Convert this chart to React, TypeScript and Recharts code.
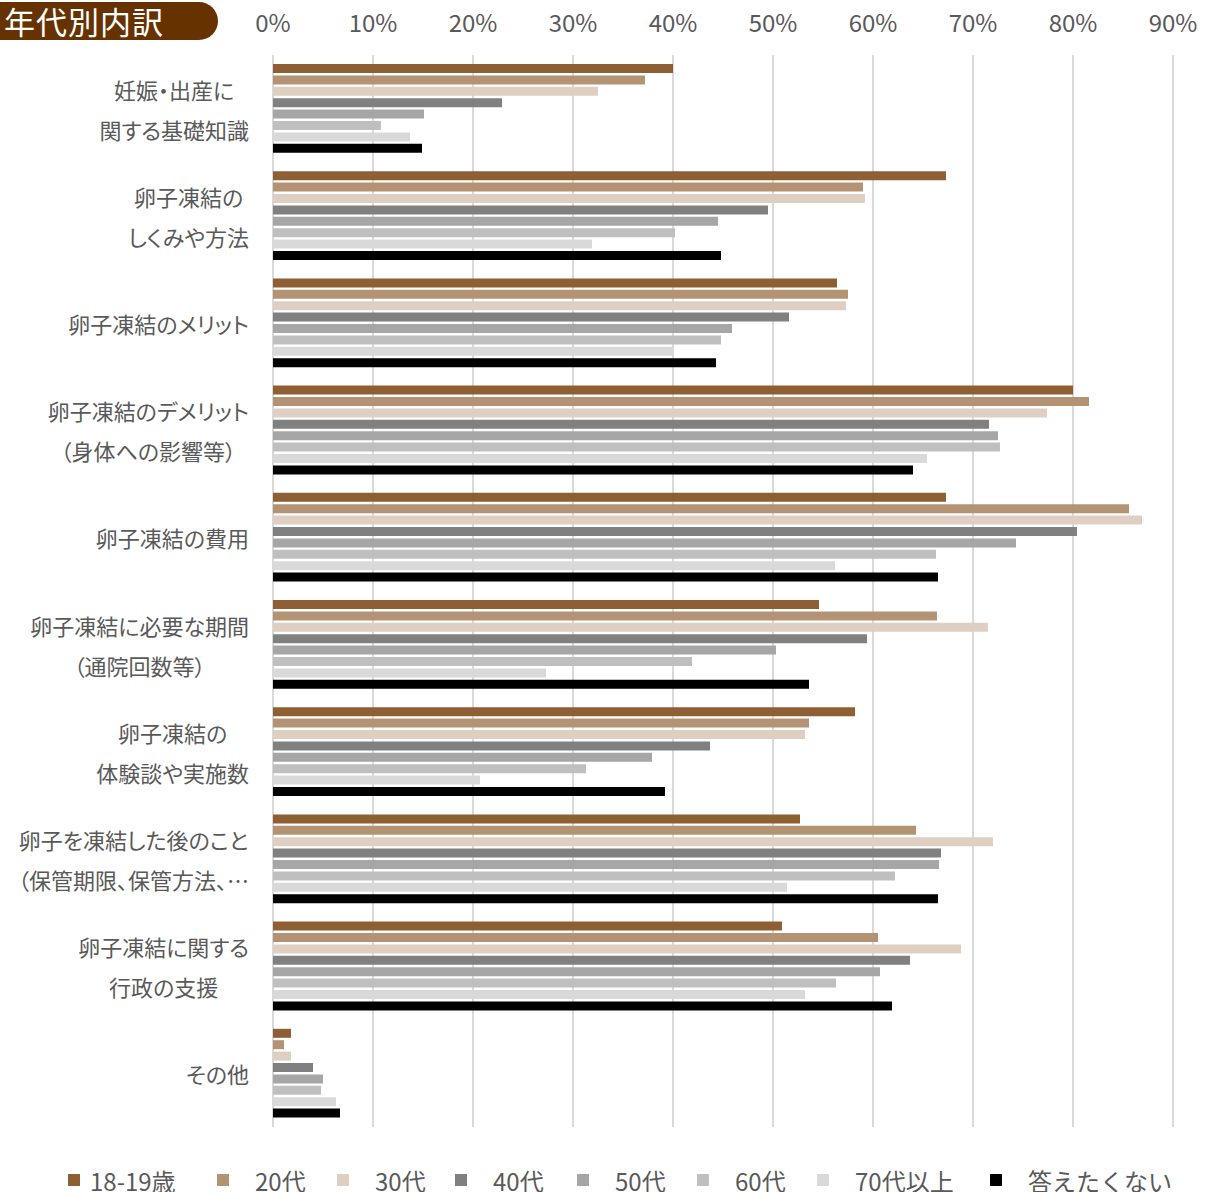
import React from "react";
import { BarChart, Bar, XAxis, YAxis, CartesianGrid } from "recharts";

const categories = [
  "妊娠・出産に\n関する基礎知識",
  "卵子凍結の\nしくみや方法",
  "卵子凍結のメリット",
  "卵子凍結のデメリット\n（身体への影響等）",
  "卵子凍結の費用",
  "卵子凍結に必要な期間\n（通院回数等）",
  "卵子凍結の\n体験談や実施数",
  "卵子を凍結した後のこと\n（保管期限、保管方法、…",
  "卵子凍結に関する\n行政の支援",
  "その他",
];

const seriesNames = ["18-19歳", "20代", "30代", "40代", "50代", "60代", "70代以上", "答えたくない"];
const seriesColors = ["#8f5f34", "#b39373", "#dfcfc3", "#808080", "#a6a6a6", "#bfbfbf", "#d9d9d9", "#000000"];

const age1819 = [40.0, 67.3, 56.4, 80.0, 67.3, 54.6, 58.2, 52.7, 50.9, 1.8];
const age20 = [37.2, 59.0, 57.5, 81.6, 85.6, 66.4, 53.6, 64.3, 60.5, 1.1];
const age30 = [32.5, 59.2, 57.3, 77.4, 86.9, 71.5, 53.2, 72.0, 68.8, 1.8];
const age40 = [22.9, 49.5, 51.6, 71.6, 80.4, 59.4, 43.7, 66.8, 63.7, 4.0];
const age50 = [15.1, 44.5, 45.9, 72.5, 74.3, 50.3, 37.9, 66.6, 60.7, 5.0];
const age60 = [10.8, 40.2, 44.8, 72.7, 66.3, 41.9, 31.3, 62.2, 56.3, 4.8];
const age70 = [13.7, 31.9, 40.0, 65.4, 56.2, 27.3, 20.7, 51.4, 53.2, 6.3];
const noAnswer = [14.9, 44.8, 44.3, 64.0, 66.5, 53.6, 39.2, 66.5, 61.9, 6.7];

const xTicks = [0, 10, 20, 30, 40, 50, 60, 70, 80, 90];

// legend marker left edges, as laid out in the original
const legendLeft = [68, 217, 337, 455, 577, 697, 817, 990];

const allSeries = [age1819, age20, age30, age40, age50, age60, age70, noAnswer];

const data = categories.map((name, i) => {
  const row: any = { name };
  allSeries.forEach((s, k) => {
    row["s" + k] = s[i];
  });
  return row;
});

const FONT = '"Noto Sans CJK JP", "Noto Sans", sans-serif';
const TEXT = "#595959";

let probe: HTMLSpanElement | null = null;
function measure(t: string) {
  if (!probe) {
    probe = document.createElement("span");
    probe.style.position = "absolute";
    probe.style.visibility = "hidden";
    probe.style.whiteSpace = "pre";
    probe.style.fontFamily = FONT;
    probe.style.fontSize = "22px";
    probe.style.fontFeatureSettings = '"palt"';
    document.body.appendChild(probe);
  }
  probe.textContent = t;
  return probe.getBoundingClientRect().width;
}

const CategoryTick = (props: any) => {
  const { y, payload } = props;
  const lines: string[] = String(payload.value).split("\n");
  const w = Math.max(...lines.map(measure));
  const cx = 249 - w / 2;
  return (
    <text
      x={cx}
      y={y}
      textAnchor="middle"
      fill={TEXT}
      fontSize={22}
      fontFamily={FONT}
      style={{ fontFeatureSettings: '"palt"' }}
    >
      {lines.map((l, i) => (
        <tspan key={i} x={cx} y={y + (i - (lines.length - 1) / 2) * 40} dominantBaseline="central">
          {l}
        </tspan>
      ))}
    </text>
  );
};

const PercentTick = (props: any) => {
  const { x, payload } = props;
  return (
    <text x={x} y={21} textAnchor="middle" dominantBaseline="central" fill={TEXT} fontSize={24} fontFamily={FONT}>
      {payload.value}%
    </text>
  );
};

export default function App() {
  return (
    <div style={{ position: "absolute", left: 0, top: 0, width: 1215, height: 1192, background: "#fff", overflow: "hidden" }}>
      <div
        style={{
          position: "absolute",
          left: 0,
          top: 2,
          width: 218,
          height: 38,
          background: "#663300",
          borderRadius: "0 19px 19px 0",
          color: "#fff",
          fontFamily: FONT,
          fontSize: 31,
          letterSpacing: 1,
          lineHeight: "38px",
          paddingLeft: 4,
          boxSizing: "border-box",
          whiteSpace: "nowrap",
        }}
      >
        年代別内訳
      </div>
      <BarChart
        width={1215}
        height={1192}
        data={data}
        layout="vertical"
        margin={{ top: 0, right: 42, bottom: 65, left: 0 }}
        barGap={2.4}
        barSize={9}
      >
        <CartesianGrid horizontal={false} stroke="#d9d9d9" strokeWidth={2} />
        <XAxis
          type="number"
          orientation="top"
          domain={[0, 90]}
          ticks={xTicks}
          height={55}
          axisLine={false}
          tickLine={false}
          tick={<PercentTick />}
          interval={0}
        />
        <YAxis
          type="category"
          dataKey="name"
          width={273}
          axisLine={false}
          tickLine={false}
          tick={<CategoryTick />}
          interval={0}
        />
        {seriesNames.map((n, k) => (
          <Bar key={n} dataKey={"s" + k} name={n} fill={seriesColors[k]} isAnimationActive={false} />
        ))}
      </BarChart>
      {seriesNames.map((n, k) => (
        <div
          key={n}
          style={{
            position: "absolute",
            left: legendLeft[k],
            top: 1165,
            height: 30,
            display: "flex",
            alignItems: "center",
            fontFamily: FONT,
            fontSize: 24,
            color: TEXT,
            whiteSpace: "nowrap",
          }}
        >
          <span
            style={{
              display: "inline-block",
              width: 12,
              height: 12,
              background: seriesColors[k],
              marginRight: k === 0 ? 10 : 26,
            }}
          />
          <span>{n}</span>
        </div>
      ))}
    </div>
  );
}
